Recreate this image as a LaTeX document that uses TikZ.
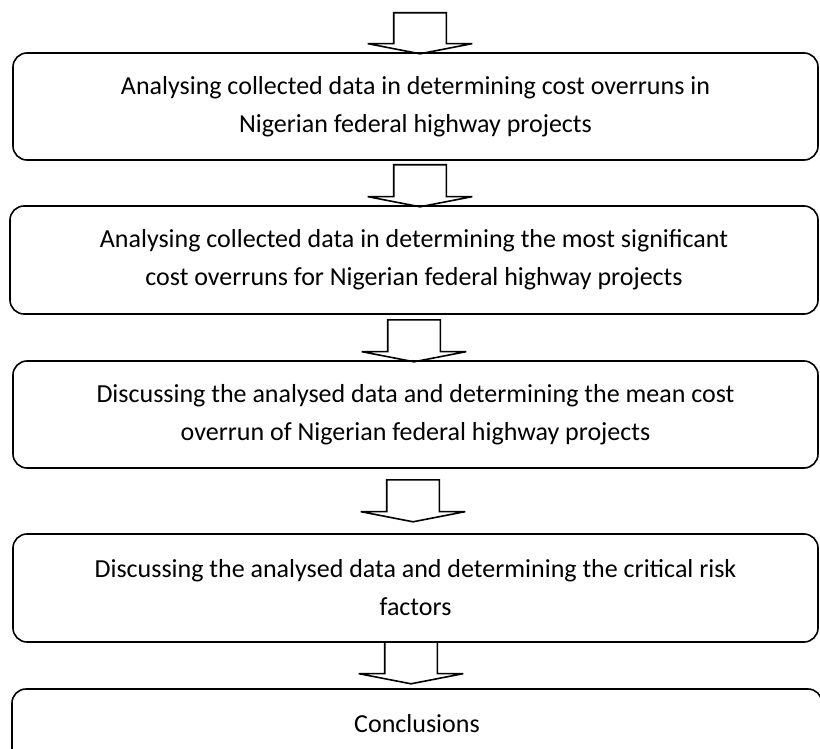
\documentclass[tikz,border=0pt]{standalone}
\usepackage{fontspec}
\setmainfont{Carlito}
\usetikzlibrary{shapes.arrows}

\begin{document}
\begin{tikzpicture}
	[
	x=1pt, y=-1pt,
	stepbox/.style={draw = black, line width = 1.6pt, shape = rectangle, rounded corners = 14pt, minimum width = 805pt, minimum height = 107pt, inner sep = 0pt, align = center, font = \fontsize{26}{38}\selectfont},
	downarrow/.style={draw = black, line width = 1.6pt, shape = single arrow, rotate = -90, anchor = tail, inner xsep = 0pt, inner ysep = 25.5pt, minimum height = 42pt, single arrow head extend = 26pt, single arrow tip angle = 158}
	]
	
	\clip (0,0) rectangle (820,749);
	
	% Steps from top to bottom
	\node[stepbox](s1) at (415.5, 106.5){Analysing collected data in determining cost overruns in\\Nigerian federal highway projects};
	\node[stepbox, minimum width = 808pt, minimum height = 108pt](s2) at (414, 260){Analysing collected data in determining the most significant\\cost overruns for Nigerian federal highway projects};
	\node[stepbox](s3) at (415.5, 414.5){Discussing the analysed data and determining the mean cost\\overrun of Nigerian federal highway projects};
	\node[stepbox, minimum height = 108pt](s4) at (415.5, 588){Discussing the analysed data and determining the critical risk\\factors};
	\node[stepbox, minimum width = 810pt](s5) at (417, 742.5){Conclusions\\~};
	
	% Block arrows between the steps
	\node[downarrow, minimum height = 41pt](a1) at (420, 12){};
	\node[downarrow](a2) at (420, 164){};
	\node[downarrow](a3) at (414, 319){};
	\node[downarrow](a4) at (413, 479){};
	\node[downarrow](a5) at (411, 641){};
\end{tikzpicture}
\end{document}
